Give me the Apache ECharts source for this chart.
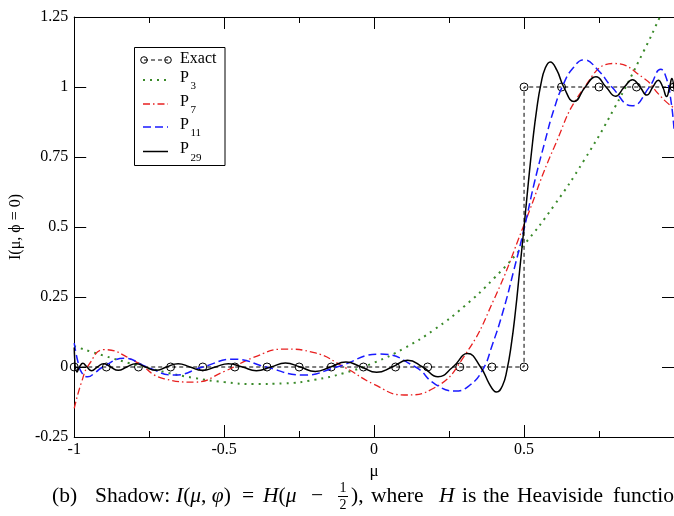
<!DOCTYPE html>
<html>
<head>
<meta charset="utf-8">
<script src="https://cdn.jsdelivr.net/npm/echarts@6/dist/echarts.min.js"></script>
<style>
  html, body { margin: 0; padding: 0; background: #fff; }
  #chart { width: 674px; height: 516px; }
</style>
</head>
<body>
<div id="chart"></div>
<script>
// ---- data ----
const xTickLabels = ['-1', '-0.5', '0', '0.5', '1'];
const yTickLabels = ['-0.25', '0', '0.25', '0.5', '0.75', '1', '1.25'];

const exactMu = [-1, -0.8929, -0.7857, -0.6786, -0.5714, -0.4643, -0.3571, -0.25, -0.1429, -0.0357,
                 0.0714, 0.1786, 0.2857, 0.3929, 0.5, 0.5, 0.625, 0.75, 0.875, 1];
const exactI  = [0, 0, 0, 0, 0, 0, 0, 0, 0, 0, 0, 0, 0, 0, 0, 1, 1, 1, 1, 1];

const p3Mu = [-1, -0.9, -0.8, -0.7, -0.6, -0.5, -0.4, -0.3, -0.2, -0.1, 0,
              0.1, 0.2, 0.3, 0.4, 0.5, 0.6, 0.7, 0.8, 0.9, 0.95, 1];
const p3I  = [0.0742, 0.0401, 0.0091, -0.0178, -0.0392, -0.0540, -0.0608, -0.0585, -0.0458, -0.0215, 0.0156,
              0.0668, 0.1333, 0.2163, 0.3170, 0.4368, 0.5767, 0.7381, 0.9222, 1.1302, 1.2435, 1.3633];

const p7Mu = [-1, -0.975, -0.95, -0.9, -0.8, -0.7, -0.6, -0.5, -0.4, -0.3, -0.2, -0.1, 0,
              0.1, 0.2, 0.3, 0.4, 0.5, 0.6, 0.7, 0.8, 0.9, 0.95, 0.975, 1];
const p7I  = [-0.148, -0.052, 0.010, 0.062, 0.022, -0.042, -0.054, -0.016, 0.035, 0.064, 0.051, 0.000, -0.062,
              -0.100, -0.075, 0.038, 0.242, 0.508, 0.784, 0.997, 1.084, 1.031, 0.973, 0.946, 0.925];

const p11Mu = [-1, -0.988, -0.975, -0.955, -0.93, -0.905, -0.833, -0.757, -0.667, -0.571, -0.467,
               -0.36, -0.236, -0.125, 0.021, 0.138, 0.2021, 0.27, 0.3176, 0.362, 0.3938,
               0.43, 0.4653, 0.5, 0.5341, 0.5686, 0.6002, 0.6316, 0.662, 0.6996, 0.747,
               0.7929, 0.86, 0.918, 0.956, 0.975, 0.99, 1];
const p11I  = [0.085, 0.02, -0.02, -0.035, -0.02, 0, 0.031, 0, -0.029, 0, 0.028,
               0, -0.029, 0, 0.046, 0, -0.060, -0.086, -0.066, -0.01, 0.078,
               0.199, 0.343, 0.493, 0.657, 0.801, 0.922, 1.011, 1.066, 1.097, 1.06,
               1.0, 0.933, 1.0, 1.063, 1.03, 0.95, 0.851];

const p29Mu = [-1, -0.9905, -0.9822, -0.9713, -0.9577, -0.942, -0.923, -0.9023, -0.8786, -0.8534,
               -0.8248, -0.7945, -0.7624, -0.7276, -0.6918, -0.6534, -0.6139, -0.5729, -0.5293, -0.4858,
               -0.4391, -0.3926, -0.3441, -0.2958, -0.2464, -0.1961, -0.1454, -0.0943, -0.0429, 0.0086,
               0.060, 0.1113, 0.1621, 0.2130, 0.2627, 0.3119, 0.3548, 0.3840, 0.3985, 0.4084,
               0.4283, 0.4429, 0.4572, 0.4713, 0.4851, 0.5, 0.5142, 0.5283, 0.5424, 0.5563,
               0.5702, 0.5872, 0.6093, 0.6323, 0.6667, 0.7040, 0.7397, 0.7733, 0.8050, 0.8344,
               0.8617, 0.8867, 0.9093, 0.9295, 0.9473, 0.9625, 0.9752, 0.9853, 0.9928, 1];
const p29I  = [0.07, -0.018, 0, 0.013, 0, -0.013, 0, 0.012, 0, -0.012,
               0, 0.012, 0, -0.012, 0, 0.012, 0, -0.012, 0, 0.012,
               0, -0.013, 0, 0.014, 0, -0.016, 0, 0.018, 0, -0.019,
               0, 0.024, 0, -0.035, 0, 0.048, 0, -0.060, -0.0835, -0.0895,
               -0.066, -0.011, 0.078, 0.199, 0.343, 0.5, 0.657, 0.801, 0.922, 1.011,
               1.066, 1.0895, 1.060, 1.0, 0.948, 1.0, 1.037, 1.0, 0.967, 1.0,
               1.026, 1.0, 0.971, 1.0, 1.024, 1.0, 0.966, 1.0, 1.03, 0.99];

// ---- chart ----
const zip = (xs, ys) => xs.map((x, i) => [x, ys[i]]);
const SERIF = '"Liberation Serif", "Times New Roman", serif';
const GREEN = '#3a8a2a', RED = '#e82020', BLUE = '#1a1aff';

const chart = echarts.init(document.getElementById('chart'), null, { renderer: 'canvas' });

const xAxisBase = {
  type: 'value', min: -1, max: 1, interval: 0.5,
  axisLine: { show: true, onZero: false, lineStyle: { color: '#000', width: 1 } },
  axisTick: { show: true, inside: true, length: 12, lineStyle: { color: '#000', width: 1 } },
  minorTick: { show: true, splitNumber: 2, length: 6, lineStyle: { color: '#000', width: 1 } },
  splitLine: { show: false }, minorSplitLine: { show: false }
};
const yAxisBase = {
  type: 'value', min: -0.25, max: 1.25, interval: 0.25,
  axisLine: { show: true, onZero: false, lineStyle: { color: '#000', width: 1 } },
  axisTick: { show: true, inside: true, length: 12, lineStyle: { color: '#000', width: 1 } },
  splitLine: { show: false }
};

// ---- legend (drawn as graphic) ----
const legendY = [60, 80, 104, 127, 151.5];
const legendG = [];
legendG.push({ type: 'rect', z: 100, shape: { x: 134.5, y: 47.5, width: 90.5, height: 118 },
  style: { fill: '#fff', stroke: '#000', lineWidth: 1 } });
legendG.push({ type: 'line', z: 101, shape: { x1: 144, y1: legendY[0], x2: 168, y2: legendY[0] },
  style: { stroke: '#000', lineWidth: 1, lineDash: [4, 3] } });
legendG.push({ type: 'circle', z: 101, shape: { cx: 144, cy: legendY[0], r: 3.3 }, style: { fill: 'none', stroke: '#000', lineWidth: 1 } });
legendG.push({ type: 'circle', z: 101, shape: { cx: 168, cy: legendY[0], r: 3.3 }, style: { fill: 'none', stroke: '#000', lineWidth: 1 } });
legendG.push({ type: 'text', z: 101, style: { x: 180, y: legendY[0] - 1, text: 'Exact', font: '16px ' + SERIF, fill: '#000', verticalAlign: 'middle' } });
const legItems = [
  { sub: '3', color: GREEN, dash: [2, 5], w: 2 },
  { sub: '7', color: RED, dash: [7, 3, 1.5, 3], w: 1.3 },
  { sub: '11', color: BLUE, dash: [8, 4], w: 1.5 },
  { sub: '29', color: '#000', dash: null, w: 1.5 }
];
legItems.forEach((it, i) => {
  const y = legendY[i + 1];
  legendG.push({ type: 'line', z: 101, shape: { x1: 143, y1: y, x2: 168, y2: y },
    style: { stroke: it.color, lineWidth: it.w, lineDash: it.dash } });
  legendG.push({ type: 'text', z: 101, style: { x: 180, y: y - 2.5, text: 'P', font: '16px ' + SERIF, fill: '#000', verticalAlign: 'middle' } });
  legendG.push({ type: 'text', z: 101, style: { x: 190.5, y: y + 6.5, text: it.sub, font: '11px ' + SERIF, fill: '#000', verticalAlign: 'middle' } });
});

// ---- caption (LaTeX-like, placed piece by piece) ----
const CAP_Y = 496, CAP_FS = 21.5;
const capRich = {
  n: { fontFamily: SERIF, fontSize: CAP_FS, fill: '#000' },
  i: { fontFamily: SERIF, fontSize: CAP_FS, fontStyle: 'italic', fill: '#000' }
};
const captionPieces = [
  ['{n|(b)}', 52], ['{n|Shadow:}', 95],
  ['{i|I}{n|(}{i|μ}{n|, }{i|φ}{n|)}', 176], ['{n|=}', 242],
  ['{i|H}{n|(}{i|μ}', 263], ['{n|−}', 311], ['{n|),}', 351],
  ['{n|where}', 371], ['{i|H}', 439], ['{n|is}', 462], ['{n|the}', 483],
  ['{n|Heaviside}', 517], ['{n|function}', 613]
];
const captionG = captionPieces.map(p => ({
  type: 'text', z: 100,
  style: { x: p[1], y: CAP_Y, verticalAlign: 'middle', text: p[0], rich: capRich, fill: '#000' }
}));
// stacked fraction 1/2
captionG.push({ type: 'text', z: 100, style: { x: 343, y: 488, text: '1', font: '14px ' + SERIF, fill: '#000', align: 'center', verticalAlign: 'middle' } });
captionG.push({ type: 'line', z: 100, shape: { x1: 338, y1: 496.5, x2: 348, y2: 496.5 }, style: { stroke: '#000', lineWidth: 1 } });
captionG.push({ type: 'text', z: 100, style: { x: 343, y: 505, text: '2', font: '14px ' + SERIF, fill: '#000', align: 'center', verticalAlign: 'middle' } });

const option = {
  animation: false,
  backgroundColor: '#fff',
  grid: { left: 74, right: 0, top: 17, bottom: 79, containLabel: false },
  xAxis: [
    Object.assign({}, xAxisBase, {
      position: 'bottom',
      name: 'μ', nameLocation: 'middle', nameGap: 17,
      nameTextStyle: { fontFamily: SERIF, fontSize: 17, color: '#000' },
      axisLabel: { show: true, margin: 5, showMaxLabel: false, color: '#000', fontFamily: SERIF, fontSize: 16,
        formatter: v => xTickLabels[Math.round((v + 1) / 0.5)] }
    }),
    Object.assign({}, xAxisBase, { position: 'top', axisLabel: { show: false } })
  ],
  yAxis: [
    Object.assign({}, yAxisBase, {
      position: 'left',
      name: 'I(μ, ϕ = 0)', nameLocation: 'middle', nameGap: 42, nameRotate: 90,
      nameTextStyle: { fontFamily: SERIF, fontSize: 16, color: '#000' },
      axisLabel: { show: true, margin: 6, color: '#000', fontFamily: SERIF, fontSize: 16,
        formatter: v => yTickLabels[Math.round((v + 0.25) / 0.25)] }
    }),
    Object.assign({}, yAxisBase, { position: 'right', axisLabel: { show: false } })
  ],
  series: [
    { name: 'Exact', type: 'line', data: zip(exactMu, exactI), smooth: false,
      symbol: 'circle', symbolSize: 8, showAllSymbol: true,
      itemStyle: { color: 'rgba(0,0,0,0)', borderColor: '#000', borderWidth: 1 },
      lineStyle: { color: '#000', width: 1, type: [4, 3] }, z: 2 },
    { name: 'P3', type: 'line', data: zip(p3Mu, p3I), smooth: true, showSymbol: false,
      lineStyle: { color: GREEN, width: 2, type: [2, 5] }, z: 3 },
    { name: 'P7', type: 'line', data: zip(p7Mu, p7I), smooth: true, showSymbol: false,
      lineStyle: { color: RED, width: 1.3, type: [7, 3, 1.5, 3] }, z: 4 },
    { name: 'P11', type: 'line', data: zip(p11Mu, p11I), smooth: true, showSymbol: false,
      lineStyle: { color: BLUE, width: 1.5, type: [8, 4] }, z: 5 },
    { name: 'P29', type: 'line', data: zip(p29Mu, p29I), smooth: true, showSymbol: false,
      lineStyle: { color: '#000', width: 1.5 }, z: 6 }
  ],
  graphic: legendG.concat(captionG)
};
chart.setOption(option);
</script>
</body>
</html>
